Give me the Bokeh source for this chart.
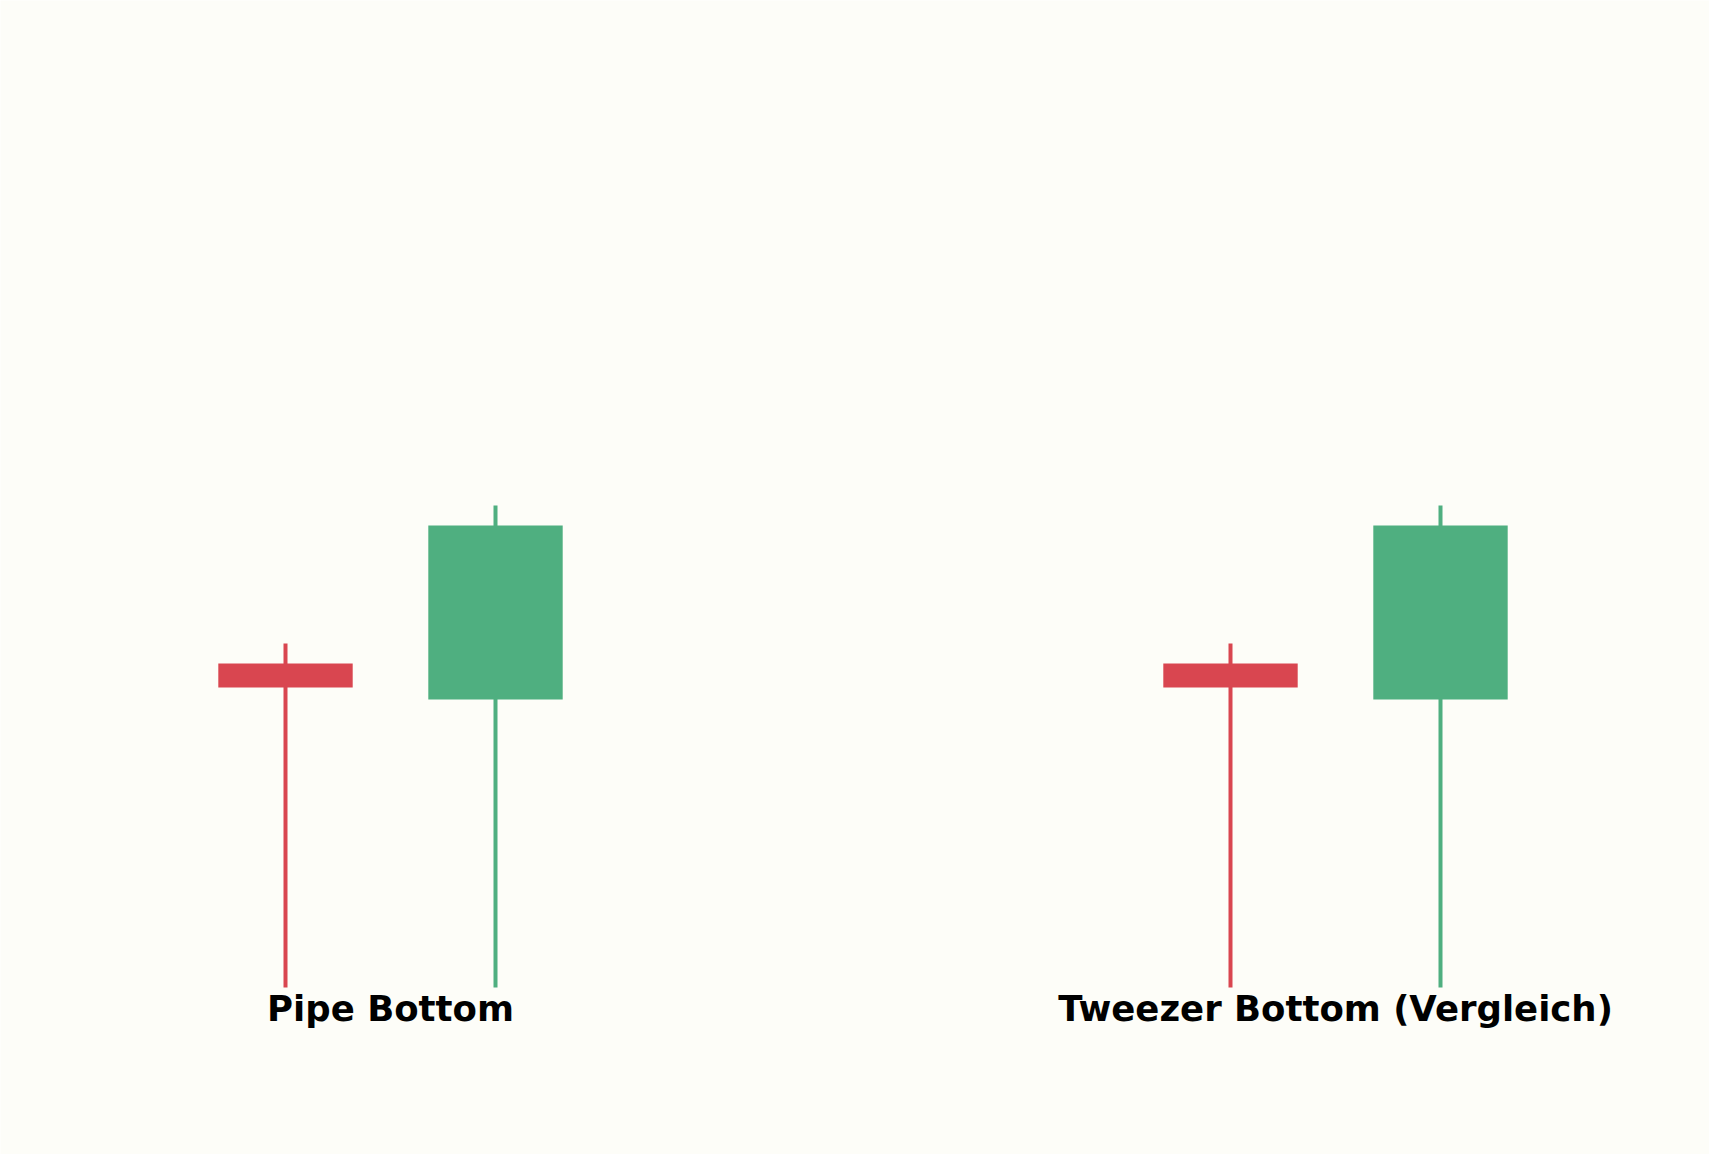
from bokeh.plotting import figure
from bokeh.models import ColumnDataSource, Range1d
from bokeh.embed import file_html
from bokeh.resources import INLINE
from bokeh.core.properties import value

# Candle data (two patterns, identical shapes)
xs = [0.0, 1.0, 4.5, 5.5]
opens = [96.2, 94.4, 96.2, 94.4]
closes = [95.0, 103.1, 95.0, 103.1]
highs = [97.2, 104.1, 97.2, 104.1]
lows = [80.0, 80.0, 80.0, 80.0]

labels = ["Pipe Bottom", "Tweezer Bottom (Vergleich)"]
label_x = [0.5, 5.0]

RED = "#d94650"
GREEN = "#4faf80"
BG = "#fdfdf8"

colors = [GREEN if c >= o else RED for o, c in zip(opens, closes)]
src = ColumnDataSource(dict(
    x=xs,
    top=[max(o, c) for o, c in zip(opens, closes)],
    bottom=[min(o, c) for o, c in zip(opens, closes)],
    high=highs, low=lows, color=colors,
))

W, H = 1709, 1154
px_x = 210.0
px_y = 20.0
x0 = -285 / px_x
y1 = 80 + 987 / px_y

p = figure(width=W, height=H, output_backend="svg", toolbar_location=None,
           x_range=Range1d(x0, x0 + W / px_x), y_range=Range1d(y1 - H / px_y, y1),
           min_border=0, background_fill_color=BG, border_fill_color=BG)
p.axis.visible = False
p.grid.visible = False
p.outline_line_color = None

p.segment(x0="x", y0="low", x1="x", y1="high", line_color="color", line_width=4, source=src)
p.vbar(x="x", width=0.64, top="top", bottom="bottom", fill_color="color", line_color=None, source=src)

lab_y = [min(lows) - 1.05] * len(labels)
p.text(x=label_x, y=lab_y, text=labels, text_align="center", text_baseline="alphabetic",
       text_font=value("DejaVu Sans"), text_font_style="bold", text_font_size="35.5px",
       text_color="black")

open("out.html", "w").write(file_html(p, INLINE))
